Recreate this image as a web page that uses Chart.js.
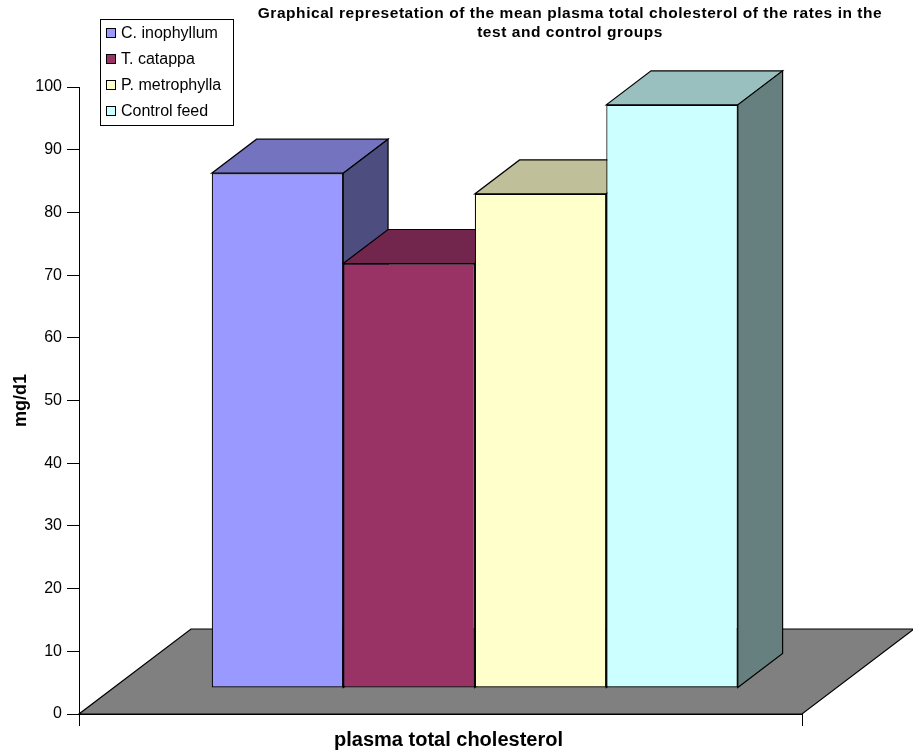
<!DOCTYPE html>
<html>
<head>
<meta charset="utf-8">
<script src="https://cdn.jsdelivr.net/npm/chart.js@4.4.1/dist/chart.umd.min.js"></script>
<style>
  html, body { margin: 0; padding: 0; background: #ffffff; }
  #wrap { width: 913px; height: 750px; }
</style>
</head>
<body>
<div id="wrap"><canvas id="chart" width="913" height="750"></canvas></div>
<script>
// ---- data ----
const categories = ['plasma total cholesterol'];
const seriesNames = ['C. inophyllum', 'T. catappa', 'P. metrophylla', 'Control feed'];
const cInophyllum = [82.1];
const tCatappa = [67.7];
const pMetrophylla = [78.8];
const controlFeed = [93.0];
const yTickValues = [0, 10, 20, 30, 40, 50, 60, 70, 80, 90, 100];
const titleLines = [
  'Graphical represetation of the mean plasma total cholesterol of the rates in the',
  'test and control groups'
];
const yAxisTitle = 'mg/d1';

// ---- styling ----
const FONT = "'Liberation Sans', Arial, Helvetica, sans-serif";
const faceColors = ['#9999FF', '#993366', '#FFFFCC', '#CCFFFF'];
const FLOOR_DX = 112, FLOOR_DY = -85;      // oblique depth of the floor
const BAR_FRONT = 0.306, BAR_DEPTH = 0.4;  // bar slab position within the floor depth

Chart.defaults.font.family = FONT;
Chart.defaults.color = '#000000';

function shade(hex, f) {
  const n = parseInt(hex.slice(1), 16);
  const r = Math.round(((n >> 16) & 255) * f);
  const g = Math.round(((n >> 8) & 255) * f);
  const b = Math.round((n & 255) * f);
  return `rgb(${r},${g},${b})`;
}

function poly(ctx, pts, fill) {
  ctx.beginPath();
  ctx.moveTo(pts[0][0], pts[0][1]);
  for (let i = 1; i < pts.length; i++) ctx.lineTo(pts[i][0], pts[i][1]);
  ctx.closePath();
  ctx.fillStyle = fill;
  ctx.fill();
  ctx.lineWidth = 1.2;
  ctx.strokeStyle = '#000000';
  ctx.stroke();
}

// Floor, bar depth faces (top + right side), legend box and title
const blocks3d = {
  id: 'blocks3d',
  beforeDatasetsDraw(chart) {
    const { ctx, chartArea: a } = chart;
    ctx.save();
    poly(ctx, [
      [a.left, a.bottom], [a.right, a.bottom],
      [a.right + FLOOR_DX, a.bottom + FLOOR_DY], [a.left + FLOOR_DX, a.bottom + FLOOR_DY]
    ], '#808080');

    // depth faces, left to right, so each bar hides the side of its left neighbour
    ctx.translate(FLOOR_DX * BAR_FRONT, FLOOR_DY * BAR_FRONT);
    const ddx = FLOOR_DX * BAR_DEPTH, ddy = FLOOR_DY * BAR_DEPTH;
    chart.data.datasets.forEach((ds, i) => {
      const meta = chart.getDatasetMeta(i);
      meta.data.forEach(el => {
        const p = el.getProps(['x', 'y', 'base', 'width'], true);
        const l = p.x - p.width / 2, r = p.x + p.width / 2;
        poly(ctx, [[l, p.y], [r, p.y], [r + ddx, p.y + ddy], [l + ddx, p.y + ddy]], shade(faceColors[i], 0.75));
        poly(ctx, [[r, p.y], [r + ddx, p.y + ddy], [r + ddx, p.base + ddy], [r, p.base]], shade(faceColors[i], 0.5));
      });
    });
    ctx.restore();
  },
  beforeDatasetDraw(chart) {
    const ctx = chart.ctx;
    ctx.save();
    ctx.translate(FLOOR_DX * BAR_FRONT, FLOOR_DY * BAR_FRONT);
  },
  afterDatasetDraw(chart) {
    chart.ctx.restore();
  },
  afterDraw(chart) {
    const ctx = chart.ctx;
    ctx.save();
    // title
    ctx.fillStyle = '#000000';
    ctx.font = `bold 15.5px ${FONT}`;
    ctx.letterSpacing = '0.55px';
    ctx.textAlign = 'center';
    ctx.textBaseline = 'middle';
    titleLines.forEach((t, i) => ctx.fillText(t, 570, 14 + i * 19));
    ctx.letterSpacing = '0px';
    // legend
    ctx.fillStyle = '#ffffff';
    ctx.fillRect(100.5, 19.5, 133, 106);
    ctx.strokeStyle = '#000000';
    ctx.lineWidth = 1;
    ctx.strokeRect(100.5, 19.5, 133, 106);
    ctx.font = `16px ${FONT}`;
    ctx.textAlign = 'left';
    chart.data.datasets.forEach((ds, i) => {
      const cy = 33 + i * 26;
      ctx.fillStyle = ds.backgroundColor;
      ctx.fillRect(106.5, cy - 4.5, 9, 9);
      ctx.strokeRect(106.5, cy - 4.5, 9, 9);
      ctx.fillStyle = '#000000';
      ctx.fillText(ds.label, 121, cy + 1);
    });
    ctx.restore();
  }
};

const seriesValues = [cInophyllum, tCatappa, pMetrophylla, controlFeed];

new Chart(document.getElementById('chart'), {
  type: 'bar',
  data: {
    labels: categories,
    datasets: seriesNames.map((name, i) => ({
      label: name,
      data: seriesValues[i],
      backgroundColor: faceColors[i],
      borderColor: '#000000',
      borderWidth: 1.2,
      borderSkipped: false,
      categoryPercentage: 0.7276,
      barPercentage: 1.0,
      clip: false
    }))
  },
  options: {
    responsive: false,
    animation: false,
    events: [],
    layout: { padding: { top: 87, right: 111, left: 0, bottom: 0 } },
    plugins: {
      legend: { display: false },
      tooltip: { enabled: false },
      title: { display: false }
    },
    scales: {
      x: {
        grid: { display: true, drawOnChartArea: false, drawTicks: true, tickLength: 12, color: '#000000', offset: true },
        border: { display: true, color: '#000000', width: 1 },
        ticks: { font: { size: 20, weight: 'bold' }, color: '#000000', labelOffset: 8, padding: 2, maxRotation: 0 },
        afterFit(scale) { scale.height = 36; }
      },
      y: {
        min: 0,
        max: 100,
        afterBuildTicks(scale) { scale.ticks = yTickValues.map(v => ({ value: v })); },
        grid: { display: true, drawOnChartArea: false, drawTicks: true, tickLength: 12, color: '#000000' },
        border: { display: true, color: '#000000', width: 1 },
        ticks: { font: { size: 16 }, color: '#000000', padding: 5 },
        title: { display: true, text: yAxisTitle, font: { size: 18, weight: 'bold' }, color: '#000000', padding: { top: 10, bottom: 0 } },
        afterFit(scale) { scale.width = 79; }
      }
    }
  },
  plugins: [blocks3d]
});
</script>
</body>
</html>
